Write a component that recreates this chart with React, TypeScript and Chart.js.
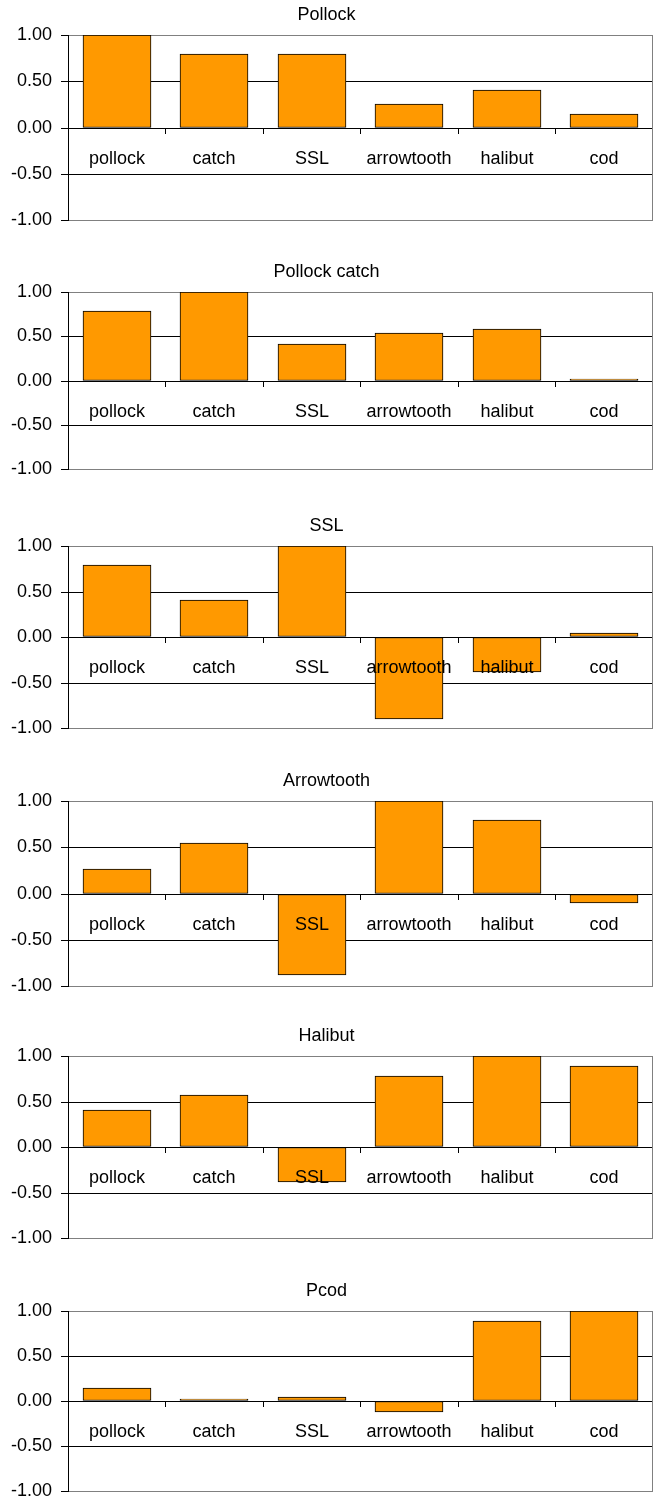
import React, { useEffect, useRef } from 'react';
import { Chart, registerables } from 'chart.js';

Chart.register(...registerables);

const categories = ['pollock', 'catch', 'SSL', 'arrowtooth', 'halibut', 'cod'];
const panelTitles = ['Pollock', 'Pollock catch', 'SSL', 'Arrowtooth', 'Halibut', 'Pcod'];
const pollockValues = [1.0, 0.79, 0.79, 0.25, 0.41, 0.15];
const catchValues = [0.78, 1.0, 0.41, 0.54, 0.58, 0.02];
const sslValues = [0.79, 0.41, 1.0, -0.9, -0.38, 0.04];
const arrowtoothValues = [0.26, 0.55, -0.88, 1.0, 0.79, -0.1];
const halibutValues = [0.41, 0.57, -0.38, 0.78, 1.0, 0.89];
const pcodValues = [0.15, 0.02, 0.04, -0.12, 0.89, 1.0];
const panelValues = [pollockValues, catchValues, sslValues, arrowtoothValues, halibutValues, pcodValues];
const yMin = -1;
const yMax = 1;
const yStep = 0.5;

// page layout (pixel rows of each panel's plot frame)
const plotTops = [35, 292, 546, 801, 1056, 1311];
const plotBottoms = [220, 469, 728, 986, 1238, 1491];
const TOP_SPACE = 35;
const BOTTOM_SPACE = 35;

const FONT = '"Liberation Sans", Arial, sans-serif';
const W = 653;

const framePlugin = {
  id: 'frame',
  beforeDatasetsDraw(chart: any) {
    const { ctx, chartArea } = chart;
    const x = Math.round(chartArea.right) - 0.5;
    ctx.save();
    ctx.strokeStyle = '#808080';
    ctx.lineWidth = 1;
    ctx.beginPath();
    ctx.moveTo(x, chartArea.top);
    ctx.lineTo(x, chartArea.bottom);
    ctx.stroke();
    ctx.restore();
  },
};

function Panel({ title, values, top, height }: { title: string; values: number[]; top: number; height: number }) {
  const ref = useRef<HTMLCanvasElement>(null);
  useEffect(() => {
    const chart = new Chart(ref.current as HTMLCanvasElement, {
      type: 'bar',
      data: {
        labels: categories,
        datasets: [
          {
            data: values,
            backgroundColor: '#FF9900',
            borderColor: '#000000',
            borderWidth: 1,
            borderSkipped: false,
            barThickness: 68,
          },
        ],
      },
      options: {
        responsive: false,
        animation: false,
        devicePixelRatio: 1,
        layout: { padding: { top: 0, left: 0, right: 0, bottom: BOTTOM_SPACE } },
        plugins: {
          legend: { display: false },
          tooltip: { enabled: false },
          title: {
            display: true,
            text: title,
            color: '#000',
            font: { family: FONT, size: 18, weight: 'normal', lineHeight: 1.2 },
            padding: { top: 4.2, bottom: 9.2 },
          },
        },
        scales: {
          x: {
            type: 'category',
            position: { y: 0 } as any,
            alignToPixels: true,
            grid: {
              display: true,
              drawOnChartArea: false,
              drawTicks: true,
              tickLength: 5,
              color: '#000',
              offset: true,
            },
            border: { display: true, color: '#000', width: 1 },
            ticks: {
              z: 1,
              color: '#000',
              font: { family: FONT, size: 18 },
              padding: 15,
              autoSkip: false,
              maxRotation: 0,
              minRotation: 0,
            },
          },
          y: {
            min: yMin,
            max: yMax,
            alignToPixels: true,
            afterFit: (scale: any) => {
              scale.width = 68;
            },
            grid: {
              color: (ctx: any) =>
                ctx.tick && Math.abs(ctx.tick.value) === 1 ? '#808080' : '#000000',
              tickColor: '#000',
              tickLength: 7,
              lineWidth: 1,
            },
            border: { display: true, color: '#000', width: 1 },
            ticks: {
              stepSize: yStep,
              color: '#000',
              font: { family: FONT, size: 18 },
              padding: 9,
              callback: (v: any) => Number(v).toFixed(2),
            },
          },
        },
      },
      plugins: [framePlugin],
    });
    return () => chart.destroy();
  }, [title, values]);
  return (
    <div style={{ position: 'absolute', left: 0, top, width: W, height }}>
      <canvas ref={ref} width={W} height={height} style={{ display: 'block' }} />
    </div>
  );
}

export default function App() {
  return (
    <div
      style={{
        position: 'absolute',
        left: 0,
        top: 0,
        width: W,
        height: 1505,
        overflow: 'hidden',
        background: '#fff',
      }}
    >
      {panelTitles.map((t, i) => (
        <Panel
          key={t}
          title={t}
          values={panelValues[i]}
          top={plotTops[i] - TOP_SPACE}
          height={plotBottoms[i] - plotTops[i] + TOP_SPACE + BOTTOM_SPACE}
        />
      ))}
    </div>
  );
}
